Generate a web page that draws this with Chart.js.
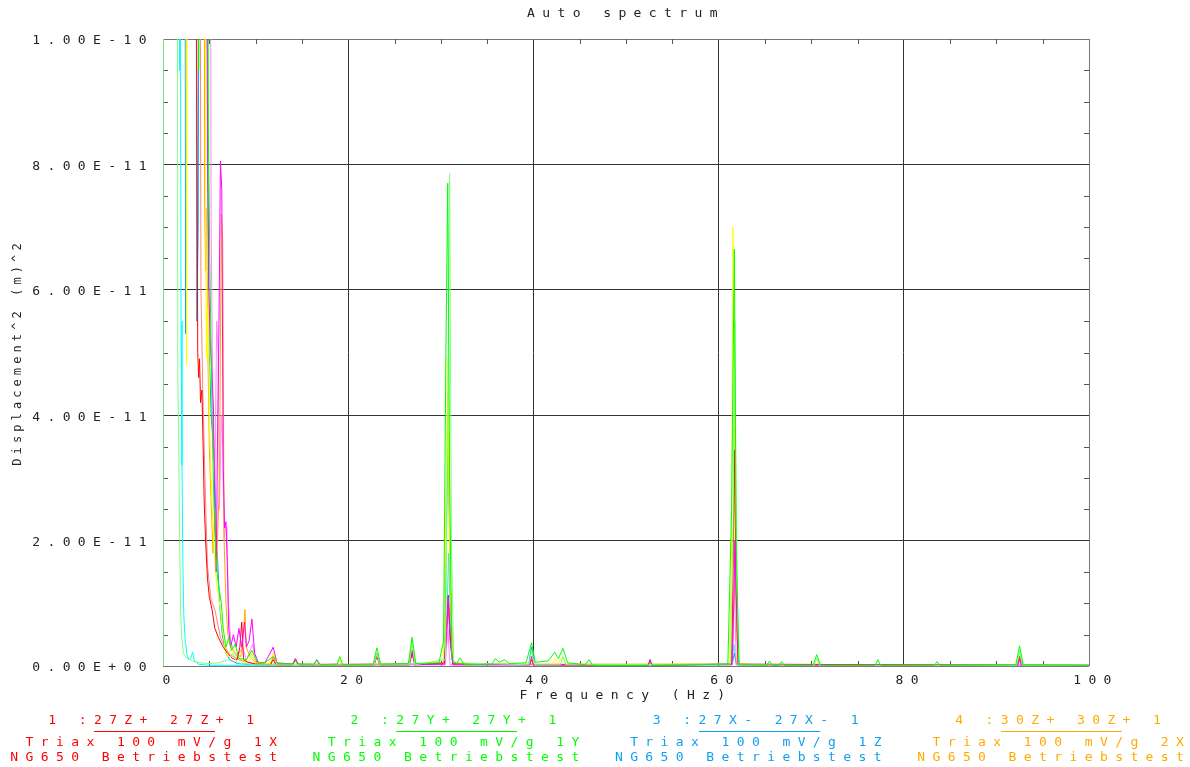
<!DOCTYPE html>
<html><head><meta charset="utf-8">
<script src="https://cdn.jsdelivr.net/npm/chart.js@4.4.1/dist/chart.umd.min.js"></script>
<style>
html,body{margin:0;padding:0;background:#fff}
#wrap{position:relative;width:1190px;height:767px;overflow:hidden;background:#fff}
#c{position:absolute;left:0;top:0}
.lg{position:absolute;white-space:pre;font:13px "DejaVu Sans Mono",monospace;letter-spacing:7.4px;line-height:15px;text-align:right}
.ul{position:absolute;height:1px}
</style></head><body>
<div id="wrap"><canvas id="c" width="1190" height="767"></canvas></div>
<script>
// values in units of 1E-11 m^2 ; frequency in Hz
const UNIT = 1e-11;
const yTickValues = [0, 2, 4, 6, 8, 10];
const yTickLabels = ['0.00E+00', '2.00E-11', '4.00E-11', '6.00E-11', '8.00E-11', '1.00E-10'];
const xTickValues = [0, 20, 40, 60, 80, 100];
const xTickLabels = ['0', '20', '40', '60', '80', '100'];

const legendLine1 = ['1 :27Z+ 27Z+ 1', '2 :27Y+ 27Y+ 1', '3 :27X- 27X- 1', '4 :30Z+ 30Z+ 1'];
const legendLine2 = ['Triax 100 mV/g 1X', 'Triax 100 mV/g 1Y', 'Triax 100 mV/g 1Z', 'Triax 100 mV/g 2X'];
const legendLine3 = ['NG650 Betriebstest', 'NG650 Betriebstest', 'NG650 Betriebstest', 'NG650 Betriebstest'];

const red = [[0,20],[3.4,20],[3.6,12],[3.75,5.0],[3.85,4.6],[3.95,4.9],[4.05,4.2],[4.2,4.4],[4.35,3.4],[4.45,2.6],[4.6,2.0],[4.8,1.4],[5.0,1.1],[5.3,0.9],[5.6,0.6],[6.0,0.45],[6.5,0.3],[7.0,0.2],[7.5,0.12],[8.0,0.1],[8.3,0.3],[8.5,0.7],[8.7,0.1],[9.2,0.06],[10,0.03],[11.6,0.02],[11.9,0.1],[12.2,0.02],[14.0,0.02],[14.3,0.1],[14.6,0.02],[22.8,0.02],[23.1,0.15],[23.4,0.02],[26.6,0.02],[26.9,0.2],[27.2,0.02],[30.4,0.05],[30.6,0.5],[30.8,1.13],[31.0,0.5],[31.3,0.04],[39.6,0.02],[39.8,0.1],[40.0,0.02],[52.4,0.01],[52.6,0.1],[52.8,0.01],[61.4,0.03],[61.55,1.5],[61.7,3.45],[61.9,1.2],[62.1,0.03],[92.2,0.01],[92.5,0.15],[92.8,0.01],[100,0.01]];
const green = [[0,20],[3.75,20],[3.85,9.5],[3.95,20],[4.75,20],[4.9,8.5],[5.05,6.5],[5.2,5.0],[5.35,3.6],[5.5,2.6],[5.7,1.8],[5.9,1.4],[6.1,1.2],[6.3,1.0],[6.5,0.6],[6.8,0.3],[7.1,0.45],[7.4,0.25],[7.8,0.35],[8.2,0.12],[9.0,0.1],[9.6,0.25],[10.2,0.06],[11.0,0.05],[11.9,0.15],[12.4,0.04],[14.0,0.03],[14.3,0.08],[14.7,0.03],[16.3,0.03],[16.6,0.1],[17.0,0.02],[18.8,0.03],[19.1,0.15],[19.4,0.02],[22.7,0.03],[23.1,0.29],[23.5,0.03],[26.5,0.04],[26.9,0.46],[27.3,0.04],[29.8,0.05],[30.3,0.4],[30.55,5.0],[30.75,7.7],[30.95,3.0],[31.2,0.1],[31.7,0.04],[32.1,0.13],[32.5,0.02],[35.5,0.03],[35.9,0.12],[36.3,0.06],[36.9,0.1],[37.4,0.04],[39.2,0.05],[39.8,0.37],[40.2,0.06],[41.6,0.08],[42.3,0.22],[42.7,0.12],[43.2,0.28],[43.7,0.05],[45.6,0.02],[46.0,0.1],[46.4,0.01],[52.3,0.01],[52.6,0.05],[52.9,0.01],[61.0,0.03],[61.4,2.5],[61.7,6.65],[61.9,2.0],[62.2,0.03],[65.2,0.01],[65.5,0.08],[65.8,0.01],[66.5,0.01],[66.8,0.07],[67.1,0.01],[70.2,0.01],[70.6,0.18],[71.0,0.01],[76.9,0.01],[77.2,0.1],[77.5,0.01],[83.3,0.01],[83.6,0.07],[83.9,0.01],[92.1,0.02],[92.5,0.32],[92.9,0.02],[100,0.01]];
const blue = [[0,20],[2.3,20],[2.45,5.3],[2.6,20],[3.5,20],[3.65,5.5],[3.8,7.0],[4.0,20],[4.6,20],[4.8,8],[5.0,5.0],[5.2,4.0],[5.45,3.5],[5.6,3.1],[5.75,2.0],[5.9,1.7],[6.1,1.0],[6.4,0.5],[6.8,0.2],[7.2,0.1],[8,0.04],[10,0.02],[30.4,0.03],[30.6,2.0],[30.8,4.0],[31.0,1.5],[31.3,0.03],[39.5,0.02],[39.8,0.3],[40.1,0.02],[61.45,0.02],[61.7,0.2],[61.95,0.02],[100,0.01]];
const orange = [[0,20],[4.4,20],[4.5,7.4],[4.6,6.3],[4.7,7.3],[4.85,5.0],[5.0,3.5],[5.2,2.6],[5.4,1.8],[5.6,2.5],[5.8,1.6],[6.1,3.0],[6.3,7.2],[6.45,6.8],[6.6,2.0],[6.8,1.0],[7.0,0.5],[7.3,0.3],[7.8,0.2],[8.4,0.15],[8.7,0.5],[8.85,0.9],[9.0,0.3],[9.4,0.15],[10.0,0.05],[11.6,0.03],[11.9,0.15],[12.2,0.02],[26.6,0.02],[26.9,0.2],[27.2,0.02],[30.3,0.05],[30.55,2.0],[30.75,4.4],[31.0,1.2],[31.3,0.03],[61.4,0.03],[61.6,2.0],[61.7,3.8],[61.9,1.2],[62.1,0.02],[92.2,0.01],[92.5,0.12],[92.8,0.01],[100,0.01]];
const yellow = [[0,20],[2.4,20],[2.55,4.8],[2.7,20],[4.5,20],[4.65,5.7],[4.75,4.9],[4.9,6.0],[5.0,4.0],[5.2,3.0],[5.4,2.2],[5.6,1.6],[5.8,1.3],[6.0,1.1],[6.2,0.9],[6.4,0.6],[6.6,0.4],[6.8,0.2],[7.0,0.15],[7.4,0.3],[7.8,0.15],[8.5,0.1],[9.2,0.05],[9.6,0.2],[10.0,0.05],[11.5,0.03],[11.9,0.2],[12.3,0.03],[18.8,0.02],[19.1,0.1],[19.4,0.02],[22.8,0.02],[23.1,0.2],[23.4,0.02],[26.6,0.02],[26.9,0.3],[27.2,0.02],[30.3,0.1],[30.55,2.5],[30.75,4.9],[31.0,1.5],[31.3,0.05],[39.5,0.02],[39.8,0.15],[40.1,0.02],[42.0,0.02],[42.3,0.12],[42.7,0.05],[43.2,0.15],[43.6,0.02],[61.2,0.03],[61.4,1.8],[61.55,7.0],[61.8,1.5],[62.1,0.03],[70.3,0.01],[70.6,0.05],[70.9,0.01],[92.2,0.01],[92.5,0.1],[92.8,0.01],[100,0.01]];
const magenta = [[0,20],[4.6,20],[4.8,9.0],[4.95,6.0],[5.1,5.2],[5.3,4.6],[5.45,4.1],[5.6,2.4],[5.75,1.5],[5.9,3.8],[6.05,5.5],[6.2,8.05],[6.35,7.6],[6.5,3.2],[6.65,2.2],[6.8,2.3],[6.95,1.6],[7.1,0.6],[7.3,0.3],[7.6,0.5],[7.9,0.3],[8.2,0.6],[8.5,0.3],[8.8,0.7],[9.0,0.3],[9.3,0.4],[9.6,0.75],[9.9,0.2],[10.3,0.05],[11.0,0.05],[11.9,0.3],[12.3,0.05],[14.0,0.03],[14.3,0.12],[14.6,0.03],[16.3,0.02],[16.6,0.1],[16.9,0.02],[22.8,0.02],[23.1,0.2],[23.4,0.02],[26.6,0.02],[26.9,0.25],[27.2,0.02],[30.4,0.03],[30.6,0.5],[30.8,1.1],[31.0,0.4],[31.3,0.02],[39.6,0.02],[39.8,0.15],[40.0,0.02],[52.4,0.02],[52.6,0.1],[52.8,0.02],[61.45,0.03],[61.65,1.0],[61.75,2.0],[61.95,0.8],[62.2,0.02],[92.3,0.01],[92.5,0.1],[92.7,0.01],[100,0.01]];
const cyan = [[0,20],[1.75,20],[1.8,9.5],[1.85,13],[1.95,5.5],[2.05,3.2],[2.15,1.6],[2.25,0.8],[2.4,0.4],[2.6,0.18],[2.8,0.1],[3.0,0.12],[3.2,0.22],[3.4,0.08],[3.8,0.03],[5.0,0.01],[30.4,0.02],[30.65,0.8],[30.85,1.8],[31.05,0.6],[31.3,0.02],[39.5,0.02],[39.8,0.3],[40.1,0.02],[61.4,0.02],[61.65,0.35],[61.9,0.02],[92.3,0.01],[92.5,0.08],[92.7,0.01],[100,0.01]];
const lightGreen = [[0,0],[0.03,20],[1.5,20],[1.6,4.6],[1.7,3.6],[1.8,2.0],[1.9,0.9],[2.0,0.5],[2.2,0.2],[2.6,0.12],[3.2,0.08],[4.0,0.05],[5.0,0.04],[6.0,0.05],[7.0,0.1],[7.5,0.2],[8.0,0.05],[10,0.02],[22.8,0.02],[23.1,0.2],[23.4,0.02],[26.6,0.02],[26.9,0.4],[27.2,0.02],[30.5,0.1],[30.75,4.0],[30.95,7.85],[31.15,2.0],[31.4,0.05],[39.5,0.02],[39.8,0.25],[40.1,0.02],[42.9,0.02],[43.2,0.15],[43.5,0.02],[61.3,0.03],[61.55,2.0],[61.75,5.5],[61.95,1.5],[62.2,0.02],[70.3,0.01],[70.6,0.12],[70.9,0.01],[92.2,0.01],[92.5,0.25],[92.8,0.01],[100,0.01]];
const salmon = [[0,20],[3.9,20],[4.1,6],[4.3,4.35],[4.5,3.2],[4.6,2.6],[4.8,1.6],[5.2,1.05],[5.6,0.9],[6.2,0.46],[6.5,0.35],[7.2,0.18],[8.2,0.1],[9,0.06],[10,0.03],[30.4,0.03],[30.65,0.5],[30.85,1.0],[31.1,0.3],[31.4,0.02],[61.45,0.02],[61.65,1.0],[61.75,1.8],[61.95,0.5],[62.2,0.02],[100,0.01]];
const lightMagenta = [[0,20],[5.0,20],[5.2,7.0],[5.4,4.0],[5.6,3.0],[5.8,5.5],[5.95,5.0],[6.1,2.5],[6.3,4.0],[6.45,3.5],[6.6,2.0],[6.75,2.25],[6.9,2.2],[7.05,1.0],[7.3,0.4],[7.6,0.25],[8.0,0.15],[8.6,0.3],[9.0,0.1],[9.7,0.35],[10.0,0.05],[11.6,0.02],[11.9,0.15],[12.2,0.02],[30.5,0.02],[30.75,0.6],[31.0,0.02],[61.5,0.02],[61.7,1.5],[61.9,0.02],[100,0.01]];

const C = {red:'#ff0000', green:'#00ff00', blue:'#10a0f0', orange:'#ffaa00', yellow:'#ffff00', magenta:'#ff00ff', cyan:'#00ffff', lightGreen:'#80ff80', salmon:'#ff8080', lightMagenta:'#ff88ff'};
const legendColors = [C.red, C.green, C.blue, C.orange];

// first listed = drawn on top
const series = [
  {label: legendLine1[1], pts: green, color: C.green},
  {label: 'lightGreen', pts: lightGreen, color: C.lightGreen},
  {label: 'magenta', pts: magenta, color: C.magenta},
  {label: legendLine1[0], pts: red, color: C.red},
  {label: 'yellow', pts: yellow, color: C.yellow},
  {label: legendLine1[3], pts: orange, color: C.orange},
  {label: 'lightMagenta', pts: lightMagenta, color: C.lightMagenta},
  {label: 'salmon', pts: salmon, color: C.salmon},
  {label: legendLine1[2], pts: blue, color: C.blue},
  {label: 'cyan', pts: cyan, color: C.cyan}
];

const FONT = 'DejaVu Sans Mono';
const LS = '7.4px';
const TXT = '#222';

const spacing = {
  id: 'spacing',
  beforeUpdate(chart) { chart.ctx.letterSpacing = LS; },
  beforeDraw(chart) {
    chart.ctx.letterSpacing = LS;
    const ys = chart.scales.y;
    if (ys && !ys.__wrapped) {
      const orig = ys.drawTitle;
      ys.drawTitle = function () { const c = this.ctx; c.letterSpacing = '4.1px'; orig.call(this); c.letterSpacing = LS; };
      ys.__wrapped = true;
    }
  }
};

const minorTicks = {
  id: 'minorTicks',
  beforeDatasetsDraw(chart) {
    const {ctx, chartArea: a, scales: {x, y}} = chart;
    ctx.save();
    ctx.strokeStyle = '#555'; ctx.lineWidth = 1; ctx.beginPath();
    for (let f = 5; f < 100; f += 5) {
      if (f % 20 === 0) continue;
      const px = Math.round(x.getPixelForValue(f)) + 0.5;
      ctx.moveTo(px, a.bottom); ctx.lineTo(px, a.bottom - 5);
      ctx.moveTo(px, a.top); ctx.lineTo(px, a.top + 5);
    }
    for (let v = 0.5; v < 10; v += 0.5) {
      if (v % 2 === 0) continue;
      const py = Math.round(y.getPixelForValue(v)) + 0.5;
      ctx.moveTo(a.left, py); ctx.lineTo(a.left + 5, py);
      ctx.moveTo(a.right, py); ctx.lineTo(a.right - 5, py);
    }
    ctx.stroke(); ctx.restore();
  }
};

const gridColor = (edgeA, edgeB) => (c) => (c.tick && (c.tick.value === edgeA || c.tick.value === edgeB)) ? '#777' : '#333';

new Chart(document.getElementById('c'), {
  type: 'line',
  data: {
    datasets: series.map(s => ({
      label: s.label,
      data: s.pts.map(([f, v]) => ({x: f, y: v})),
      borderColor: s.color,
      backgroundColor: s.color,
      borderWidth: 1,
      pointRadius: 0,
      tension: 0,
      fill: false
    }))
  },
  options: {
    responsive: false,
    animation: false,
    events: [],
    layout: {padding: {left: 0, right: 101, top: 0, bottom: 0}},
    plugins: {
      legend: {display: false},
      tooltip: {enabled: false},
      title: {display: true, text: 'Auto spectrum', fullSize: false, color: TXT,
              font: {family: FONT, size: 13, weight: 'normal'}, padding: {top: 6, bottom: 17.4}}
    },
    scales: {
      x: {
        type: 'linear', min: 0, max: 100,
        afterFit: s => { s.height = 101; },
        border: {display: false},
        grid: {color: gridColor(0, 100), drawTicks: false, lineWidth: 1},
        ticks: {stepSize: 20, padding: 7, labelOffset: 7, color: TXT, maxRotation: 0,
                font: {family: FONT, size: 13},
                callback: v => { const i = xTickValues.indexOf(v); return i < 0 ? '' : xTickLabels[i]; }},
        title: {display: true, text: 'Frequency (Hz)', color: TXT, font: {family: FONT, size: 13},
                padding: {top: 0, bottom: 63.2}}
      },
      y: {
        type: 'linear', min: 0, max: 10,
        afterFit: s => { s.width = 163; },
        border: {display: false},
        grid: {color: gridColor(0, 10), drawTicks: false, lineWidth: 1},
        ticks: {stepSize: 2, padding: 9, labelOffset: 2, color: TXT,
                font: {family: FONT, size: 13},
                callback: v => { const i = yTickValues.indexOf(v); return i < 0 ? '' : yTickLabels[i]; }},
        title: {display: true, text: 'Displacement^2 (m)^2', color: TXT, font: {family: FONT, size: 12},
                padding: {top: 10.8, bottom: 0}}
      }
    }
  },
  plugins: [spacing, minorTicks]
});

// legend (below plot), built from the legend arrays
const wrap = document.getElementById('wrap');
const LSPX = 7.4, PITCH = 15.2, COLW = 302.3, R0 = 277;
function addLine(text, color, visRight, centerY) {
  const d = document.createElement('div');
  d.className = 'lg';
  d.textContent = text;
  d.style.color = color;
  d.style.right = (1190 - (visRight + LSPX)) + 'px';
  d.style.top = (centerY - 7.5) + 'px';
  wrap.appendChild(d);
}
for (let k = 0; k < 4; k++) {
  const R = R0 + COLW * k;
  addLine(legendLine1[k], legendColors[k], R - 23, 719);
  addLine(legendLine2[k], legendColors[k], R, 741);
  addLine(legendLine3[k], legendColors[k], R, 756);
  const u = document.createElement('div');
  u.className = 'ul';
  u.style.background = legendColors[k];
  u.style.left = (R - 183) + 'px';
  u.style.width = '121px';
  u.style.top = '731px';
  wrap.appendChild(u);
}
</script>
</body></html>
